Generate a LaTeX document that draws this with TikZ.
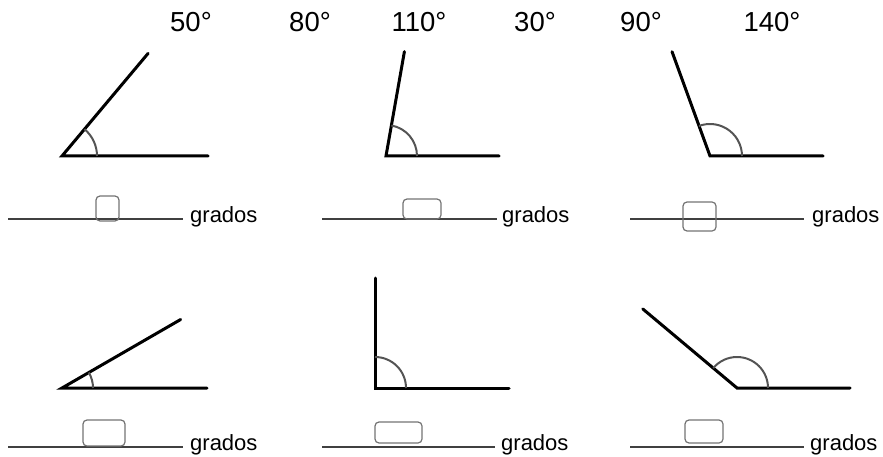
\documentclass[tikz,border=0pt]{standalone}
\usepackage{fontspec}
\setmainfont{Liberation Sans}
\usepackage{tikz}
\usepackage{xcolor}
\definecolor{arcgray}{rgb}{0.33, 0.33, 0.33}
\definecolor{linegray}{rgb}{0.25, 0.25, 0.25}
\definecolor{boxgray}{rgb}{0.45, 0.45, 0.45}
\tikzset{
    ray/.style={line width=3pt, line cap=round},
    arcmark/.style={line width=2pt, arcgray},
    answerline/.style={line width=1.3pt, linegray},
    answerbox/.style={draw=boxgray, line width=1.2pt, rounded corners=4pt, inner sep=0pt},
    deglbl/.style={anchor=base, inner sep=0pt, font=\fontsize{27.5}{30}\selectfont},
    gradlbl/.style={anchor=base west, inner sep=0pt, font=\fontsize{22}{24}\selectfont}
}

\begin{document}
\begin{tikzpicture}[x=1pt, y=1pt]
                            \useasboundingbox (0,0) rectangle (883,456);
                            % degree values to choose from
                            \node[deglbl] (d50)  at (191,424) {50°};
                            \node[deglbl] (d80)  at (310,424) {80°};
                            \node[deglbl] (d110) at (419,424) {110°};
                            \node[deglbl] (d30)  at (535,424) {30°};
                            \node[deglbl] (d90)  at (641,424) {90°};
                            \node[deglbl] (d140) at (772,424) {140°};
                            % top row angles
                            \coordinate (v1) at (62,300);
                            \coordinate (h1) at (208,300);
                            \path (v1) ++(50:134) coordinate (t1);
                            \draw [ray] (t1) -- (v1) -- (h1);
                            \draw [arcmark] (v1) ++(0:35) arc (0:50:35);
                            \coordinate (v2) at (386,300);
                            \coordinate (h2) at (499,300);
                            \path (v2) ++(80:106) coordinate (t2);
                            \draw [ray] (t2) -- (v2) -- (h2);
                            \draw [arcmark] (v2) ++(0:31) arc (0:80:31);
                            \coordinate (v3) at (710,300);
                            \coordinate (h3) at (823,300);
                            \path (v3) ++(110:111) coordinate (t3);
                            \draw [ray] (t3) -- (v3) -- (h3);
                            \draw [arcmark] (v3) ++(0:32) arc (0:110:32);
                            % top row answers
                            \coordinate (s1) at (8,237);
                            \coordinate (e1) at (183,237);
                            \node[gradlbl] (g1) at (190,234) {grados};
                            \draw [answerline] (s1) -- (e1);
                            \node[answerbox, minimum width=23pt, minimum height=25pt] (b1) at (107.5,247.5) {};
                            \coordinate (s2) at (322,237);
                            \coordinate (e2) at (497,237);
                            \node[gradlbl] (g2) at (502,234) {grados};
                            \draw [answerline] (s2) -- (e2);
                            \node[answerbox, minimum width=38pt, minimum height=20pt] (b2) at (422,247) {};
                            \coordinate (s3) at (630,237);
                            \coordinate (e3) at (804,237);
                            \node[gradlbl] (g3) at (812,234) {grados};
                            \draw [answerline] (s3) -- (e3);
                            \node[answerbox, minimum width=33pt, minimum height=29pt] (b3) at (699.5,239.5) {};
                            % bottom row angles
                            \coordinate (v4) at (62,68);
                            \coordinate (h4) at (207,68);
                            \path (v4) ++(30:137) coordinate (t4);
                            \draw [ray] (t4) -- (v4) -- (h4);
                            \draw [arcmark] (v4) ++(0:31) arc (0:30:31);
                            \coordinate (v5) at (375,68);
                            \coordinate (h5) at (509,68);
                            \path (v5) ++(90:110) coordinate (t5);
                            \draw [ray] (t5) -- (v5) -- (h5);
                            \draw [arcmark] (v5) ++(0:31) arc (0:90:31);
                            \coordinate (v6) at (737,68);
                            \coordinate (h6) at (850,68);
                            \path (v6) ++(140:123) coordinate (t6);
                            \draw [ray] (t6) -- (v6) -- (h6);
                            \draw [arcmark] (v6) ++(0:31) arc (0:140:31);
                            % bottom row answers
                            \coordinate (s4) at (8,9);
                            \coordinate (e4) at (183,9);
                            \node[gradlbl] (g4) at (190,6) {grados};
                            \draw [answerline] (s4) -- (e4);
                            \node[answerbox, minimum width=42pt, minimum height=26pt] (b4) at (104,23) {};
                            \coordinate (s5) at (322,9);
                            \coordinate (e5) at (495,9);
                            \node[gradlbl] (g5) at (501,6) {grados};
                            \draw [answerline] (s5) -- (e5);
                            \node[answerbox, minimum width=47pt, minimum height=21pt] (b5) at (398.5,23.5) {};
                            \coordinate (s6) at (630,9);
                            \coordinate (e6) at (804,9);
                            \node[gradlbl] (g6) at (810,6) {grados};
                            \draw [answerline] (s6) -- (e6);
                            \node[answerbox, minimum width=38pt, minimum height=23pt] (b6) at (704,24.5) {};
                        \end{tikzpicture}
\end{document}
